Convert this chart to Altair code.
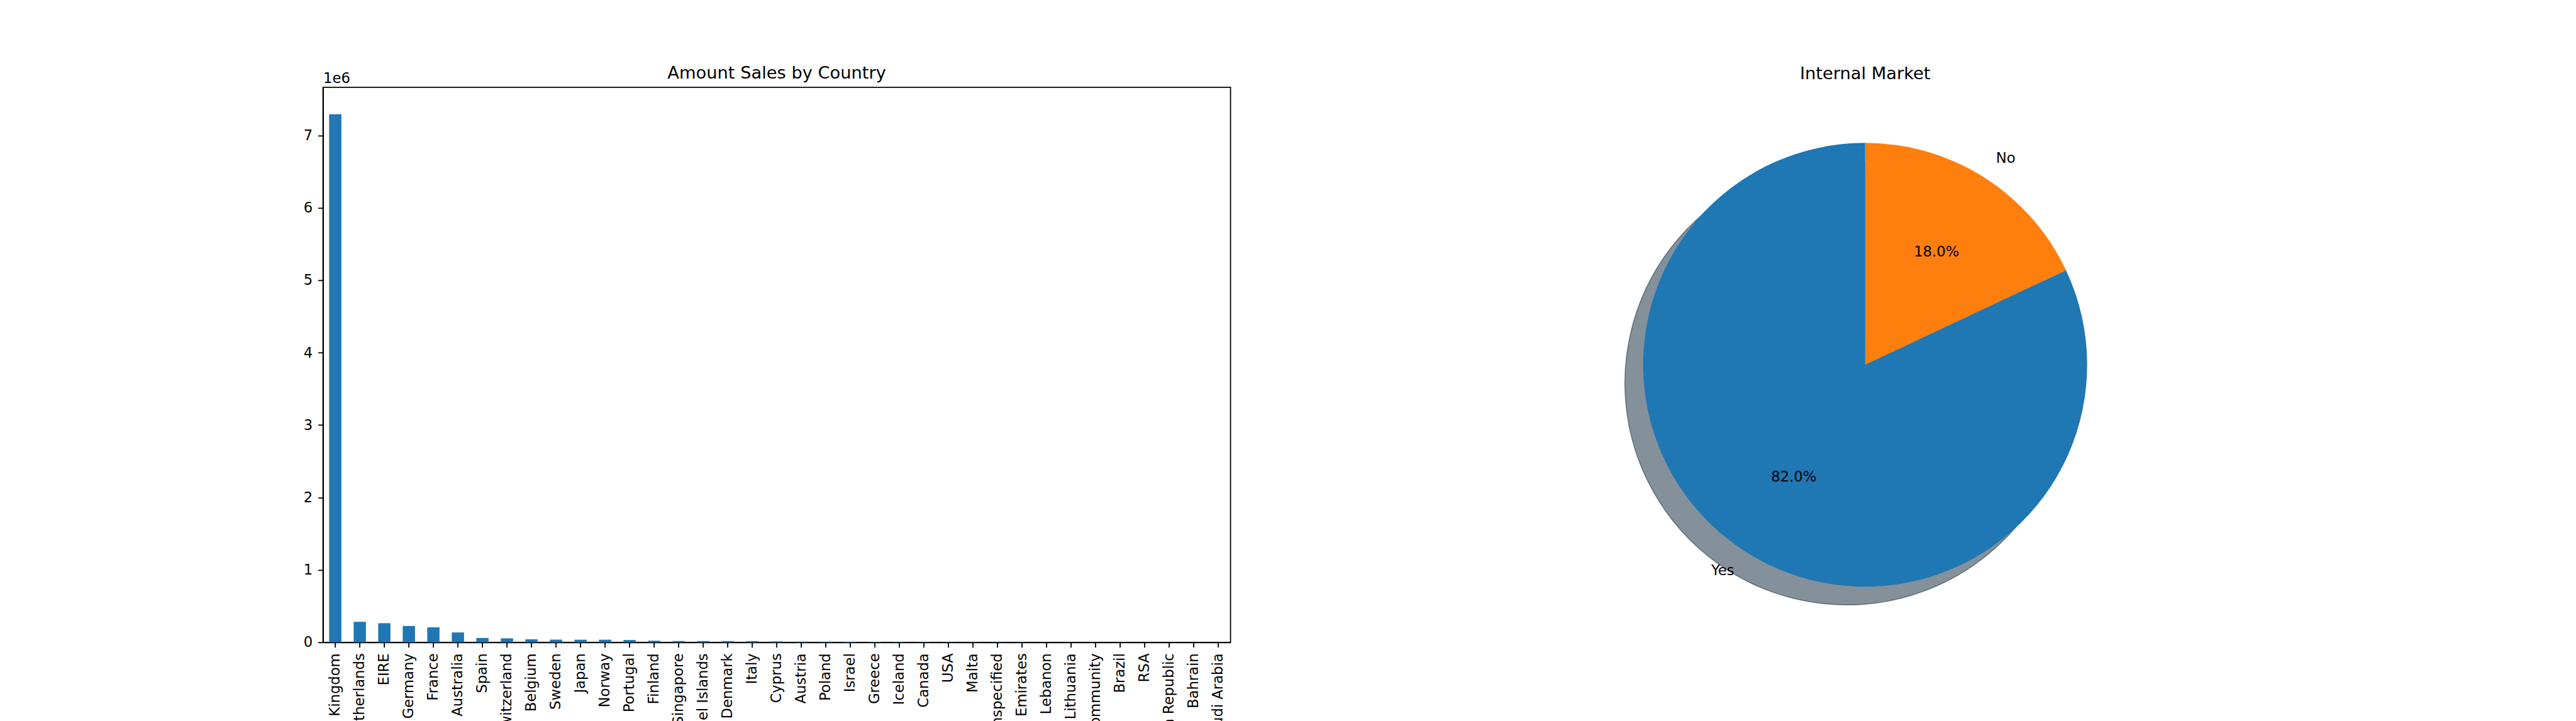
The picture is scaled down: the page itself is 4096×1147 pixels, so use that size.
import altair as alt
import pandas as pd

# ---------------- data ----------------
countries = ["United Kingdom", "Netherlands", "EIRE", "Germany", "France", "Australia",
             "Spain", "Switzerland", "Belgium", "Sweden", "Japan", "Norway", "Portugal",
             "Finland", "Singapore", "Channel Islands", "Denmark", "Italy", "Cyprus",
             "Austria", "Poland", "Israel", "Greece", "Iceland", "Canada", "USA", "Malta",
             "Unspecified", "United Arab Emirates", "Lebanon", "Lithuania",
             "European Community", "Brazil", "RSA", "Czech Republic", "Bahrain",
             "Saudi Arabia"]
amounts = [7295000, 283000, 264000, 226000, 207000, 136000, 60000, 55000, 41000,
           37000, 36000, 36000, 32000, 22000, 18000, 17500, 17000, 16000, 13000,
           10000, 9000, 8000, 5000, 4500, 4000, 3500, 3000, 2700, 2000, 1700, 1600,
           1300, 1100, 1000, 700, 500, 130]
y_ticks = [0, 1000000, 2000000, 3000000, 4000000, 5000000, 6000000, 7000000]
y_max = 7667000

market_labels = ["No", "Yes"]
market_share = [18.0, 82.0]
market_order = [0, 1]

# ---------------- styling ----------------
FONT = "DejaVu Sans"
TICK_FS = 22.7
TITLE_FS = 27.3
BLUE = "#1f77b4"
ORANGE = "#ff7f0e"
PLOT_W = 1443
PLOT_H = 883
PIE_W = 883
R = 353

bar_df = pd.DataFrame({"Country": countries, "Amount": amounts})
pie_df = pd.DataFrame({"label": market_labels, "share": market_share, "order": market_order})

bars = alt.Chart(bar_df).mark_bar(color=BLUE).encode(
    x=alt.X("Country:N", sort=countries,
            scale=alt.Scale(paddingInner=0.5, paddingOuter=0.25),
            axis=alt.Axis(title=None, labelAngle=-90, labelOverlap=False,
                          tickSize=8, labelPadding=9, labelLimit=1000)),
    y=alt.Y("Amount:Q",
            scale=alt.Scale(domain=[0, y_max], nice=False, zero=True),
            axis=alt.Axis(values=y_ticks, grid=False, tickSize=8, labelPadding=9,
                          labelExpr="format(datum.value / 1000000, 'd')",
                          title="1e6", titleAngle=0, titleAlign="left",
                          titleBaseline="bottom", titleX=0, titleY=-2.2,
                          titleFontSize=TICK_FS, titleFontWeight="normal",
                          titleFont=FONT, titleColor="black")),
).properties(
    width=PLOT_W, height=PLOT_H,
    title=alt.TitleParams("Amount Sales by Country", frame="group", baseline="top",
                          offset=-17),
    view=alt.ViewBackground(stroke="black", strokeWidth=1.8),
)

base = alt.Chart(pie_df).encode(
    theta=alt.Theta("share:Q", stack=True),
    order=alt.Order("order:Q"),
)

shadow = base.mark_arc(outerRadius=R, xOffset=-29, yOffset=29,
                       fillOpacity=0.5, strokeOpacity=0.5, strokeWidth=1.5).encode(
    fill=alt.condition("datum.label == 'Yes'", alt.value("rgb(9,36,54)"), alt.value("rgb(77,38,4)")),
    stroke=alt.condition("datum.label == 'Yes'", alt.value("rgb(9,36,54)"), alt.value("rgb(77,38,4)")),
)
wedges = base.mark_arc(outerRadius=R).encode(
    fill=alt.condition("datum.label == 'Yes'", alt.value(BLUE), alt.value(ORANGE)),
)
name_no = base.mark_text(radius=R * 1.1, align="left", baseline="middle",
                         fontSize=TICK_FS, font=FONT, color="black").encode(
    text=alt.condition("datum.label == 'No'", alt.Text("label:N"), alt.value("")))
name_yes = base.mark_text(radius=R * 1.1, align="right", baseline="middle",
                          fontSize=TICK_FS, font=FONT, color="black").encode(
    text=alt.condition("datum.label == 'Yes'", alt.Text("label:N"), alt.value("")))
pct = base.transform_calculate(
    pct="format(datum.share, '.1f') + '%'"
).mark_text(radius=R * 0.6, align="center", baseline="middle",
            fontSize=TICK_FS, font=FONT, color="black").encode(text="pct:N")

pie = alt.layer(shadow, wedges, name_no, name_yes, pct).properties(
    width=PIE_W, height=PLOT_H,
    title=alt.TitleParams("Internal Market", frame="group", baseline="top", offset=7.9),
    view=alt.ViewBackground(strokeWidth=0),
)

chart = alt.hconcat(bars, pie, spacing=566.6).properties(
    padding={"left": 472.6, "top": 93.8, "right": 5, "bottom": 5},
).configure(font=FONT).configure_axis(
    labelFont=FONT, labelFontSize=TICK_FS, labelColor="black",
    tickColor="black", tickWidth=1.8, domainColor="black", domainWidth=1.8,
).configure_title(
    font=FONT, fontSize=TITLE_FS, fontWeight="normal", color="black", anchor="middle",
).configure_view(strokeWidth=0)

chart.save("out.html", embed_options={"renderer": "svg", "actions": False})
